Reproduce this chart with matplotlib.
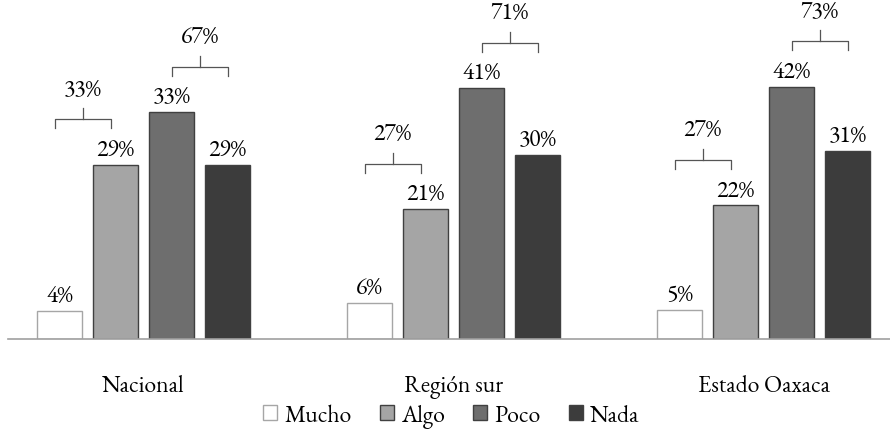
#imports
import numpy as np
import matplotlib
matplotlib.use("Agg")
import matplotlib.pyplot as plt
from matplotlib.patches import Patch

#data
groups = ["Nacional", "Región sur", "Estado Oaxaca"]
series = ["Mucho", "Algo", "Poco", "Nada"]
# bar heights (%)
mucho = [4.6, 6.0, 4.8]
algo = [28.8, 21.5, 22.1]
poco = [37.5, 41.5, 41.7]
nada = [28.8, 30.4, 31.1]
# printed labels
mucho_lbl = ["4%", "6%", "5%"]
algo_lbl = ["29%", "21%", "22%"]
poco_lbl = ["33%", "41%", "42%"]
nada_lbl = ["29%", "30%", "31%"]
# bracket totals: Mucho+Algo, Poco+Nada
low_lbl = ["33%", "27%", "27%"]
high_lbl = ["67%", "71%", "73%"]

#style
plt.rcParams['font.family'] = ['EB Garamond', 'DejaVu Serif']
fill = ["white", "#a5a5a5", "#6e6e6e", "#3c3c3c"]
edge = ["#a6a6a6", "#404040", "#404040", "#404040"]
fs = 17

fig = plt.figure(figsize=(8.9, 4.35), dpi=100)
ax = fig.add_axes([8/890, 95/435, 1 - 8/890, 340/435])

x = np.arange(len(groups))
w = 45/310
step = 56/310
heights = [mucho, algo, poco, nada]
labels = [mucho_lbl, algo_lbl, poco_lbl, nada_lbl]

for i in range(4):
    xs = x + (i - 1.5)*step
    ax.bar(xs, heights[i], width=w, color=fill[i], edgecolor=edge[i], linewidth=1, zorder=2)
    for xx, hh, lb in zip(xs, heights[i], labels[i]):
        ax.annotate(lb, (xx, hh), xytext=(0, 2), textcoords="offset points",
                    ha="center", va="bottom", fontsize=fs)

#brackets
def brace(x0, x1, y, txt):
    tip = 1.5
    peak = 1.8
    xm = (x0 + x1)/2
    ax.plot([x0, x0, x1, x1], [y - tip, y, y, y - tip], color="#555555", lw=0.9, zorder=3)
    ax.plot([xm, xm], [y, y + peak], color="#555555", lw=0.9, zorder=3)
    ax.text(xm, y + peak + 1.1, txt, ha="center", va="bottom", fontsize=fs)

off = 7.5
for g in range(len(groups)):
    c = x[g]
    x0 = c - 1.5*step - 5/310
    x1 = c - 0.5*step - 5/310
    brace(x0, x1, max(mucho[g], algo[g]) + off, low_lbl[g])
    brace(c + 0.5*step, c + 1.5*step, max(poco[g], nada[g]) + off, high_lbl[g])

ax.set_xlim(-135.5/310, 2 + 126.5/310)
ax.set_ylim(0, 340/6.05)
for s in ["top", "right", "left"]:
    ax.spines[s].set_visible(False)
ax.spines["bottom"].set_color("#a0a0a0")
ax.spines["bottom"].set_linewidth(1.2)
ax.set_yticks([])
ax.set_xticks(x)
ax.set_xticklabels(groups, fontsize=fs)
ax.tick_params(axis="x", length=0, pad=25)

handles = [Patch(facecolor=fill[i], edgecolor=edge[i], label=series[i]) for i in range(4)]
fig.legend(handles=handles, loc="center", bbox_to_anchor=(0.507, 1 - 417/435), ncol=4,
           frameon=False, fontsize=fs, handlelength=0.6, handleheight=0.6,
           handletextpad=0.3, columnspacing=1.2)

fig.savefig("out.png", dpi=100)
